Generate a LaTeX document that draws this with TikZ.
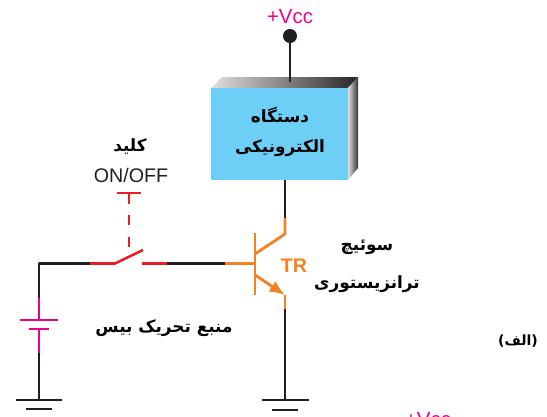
\documentclass[tikz,border=0pt]{standalone}
\usepackage{fontspec}
\setmainfont{Liberation Sans}
\newfontfamily\arabicfont[Script=Arabic]{DejaVu Sans}
\TeXXeTstate=1
\usetikzlibrary{arrows.meta}
\definecolor{wireblack}{HTML}{231F20}
\definecolor{trorange}{HTML}{F58220}
\definecolor{swred}{HTML}{ED1C24}
\definecolor{batpink}{HTML}{EC008C}
\definecolor{boxblue}{HTML}{6DCFF6}
\tikzset{
  wire/.style={line width=1.8pt,wireblack},
  trwire/.style={line width=2pt,trorange},
  swwire/.style={line width=1.8pt,swred},
  batwire/.style={line width=1.8pt,batpink},
  fatext/.style={font=\arabicfont\bfseries\fontsize{12}{14}\selectfont,text=black,inner sep=0pt},
}
\begin{document}
\begin{tikzpicture}[x=.025cm,y=-.025cm,line join=round]
  \useasboundingbox (0,0) rectangle (547,416);
  % supply and box
  \node (vcc) at (290,17) [font=\fontsize{14.5}{16}\selectfont,inner sep=0pt] {\textcolor{batpink}{+Vcc}};
  \node (dot) at (290,36) [circle,fill=wireblack,minimum size=10pt,inner sep=0pt] {};
  \shade[left color=gray!25,right color=black!85] (211,88) -- (222,77) -- (358,77) -- (348,88) -- cycle;
  \shade[left color=gray!25,right color=black!80] (348,88) -- (358,77) -- (358,168) -- (348,180) -- cycle;
  \node (box) at (279.5,134) [fill=boxblue,minimum width=137*.025cm,minimum height=92*.025cm,inner sep=0pt] {};
  \coordinate (boxtop) at (290,82);
  \coordinate (boxbot) at (285,180);
  \draw[wire] (dot) -- (boxtop);
  \node (box1) at (280,115) [fatext] {\beginR دستگاه\endR};
  \node (box2) at (280,148) [fatext] {\beginR الکترونیکی\endR};
  % transistor
  \coordinate (cc) at (285,218);
  \coordinate (c) at (285,234);
  \coordinate (bc) at (255,254);
  \coordinate (be) at (255,275);
  \coordinate (e) at (285,295);
  \coordinate (ee) at (285,309);
  \coordinate (b) at (255,263.5);
  \coordinate (bb) at (225,263.5);
  \coordinate (g1) at (285,400);
  \draw[wire] (boxbot) -- (cc);
  \draw[trwire] (cc) -- (c) -- (bc);
  \draw[trwire] (255,233) -- (255,295);
  \draw[trwire] (bb) -- (b);
  \draw[trwire,-{Latex[length=11pt,width=9pt]}] (be) -- (e);
  \draw[trwire] (e) -- (ee);
  \draw[wire] (ee) -- (g1);
  \draw[wire] (262,400) -- (309,400);
  \draw[wire] (272,410) -- (298,410);
  \node (tr) at (294,266) [trorange,font=\bfseries\fontsize{14}{16}\selectfont,inner sep=0pt] {TR};
  \node (sw1) at (367,247) [fatext] {\beginR سوئیچ\endR};
  \node (sw2) at (367,284) [fatext] {\beginR ترانزیستوری\endR};
  % switch
  \coordinate (corner) at (39,263.5);
  \coordinate (s1) at (90,263.5);
  \coordinate (s2) at (115,263.5);
  \coordinate (s3) at (143,250);
  \coordinate (s4) at (142,263.5);
  \coordinate (s5) at (167,263.5);
  \draw[wire] (bb) -- (s5);
  \draw[swwire] (s5) -- (s4);
  \draw[swwire] (s1) -- (s2) -- (s3);
  \draw[swwire] (117,193) -- (141,193);
  \draw[swwire,dash pattern=on 7.5pt off 8pt] (129,193) -- (129,249);
  \node (onoff) at (131,175) [wireblack,font=\fontsize{14}{16}\selectfont,inner sep=0pt] {ON/OFF};
  \node (key) at (130,146) [fatext] {\beginR کلید\endR};
  % battery
  \coordinate (b1) at (39,298);
  \coordinate (b2) at (39,320);
  \coordinate (b3) at (39,329);
  \coordinate (b4) at (39,353);
  \coordinate (g2) at (39,400);
  \draw[wire] (s1) -- (corner) -- (b1);
  \draw[batwire] (b1) -- (b2);
  \draw[batwire] (20,320) -- (58,320);
  \draw[batwire] (29,329) -- (49,329);
  \draw[batwire] (b3) -- (b4);
  \draw[wire] (b4) -- (g2);
  \draw[wire] (16,400) -- (62,400);
  \draw[wire] (26,409) -- (52,409);
  \node (src) at (164,328) [fatext] {\beginR منبع تحریک بیس\endR};
  \node (part) at (518,341) [fatext,font=\arabicfont\bfseries\fontsize{10}{12}\selectfont] {\beginR (الف)\endR};
  \node (vcc2) at (428,420) [font=\fontsize{14.5}{16}\selectfont,inner sep=0pt] {\textcolor{batpink}{+Vcc}};
\end{tikzpicture}
\end{document}
